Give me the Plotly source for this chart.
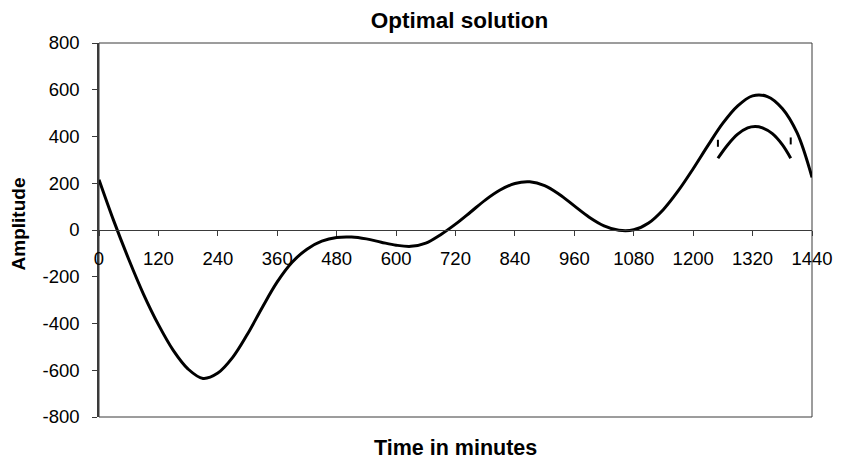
import plotly.graph_objects as go

# Optimal amplitude profile over one day, sampled every 30 minutes
time_main = list(range(0, 1441, 30))
amp_main = [215, 38, -125, -275, -405, -515, -595, -635, -612, -545,
            -445, -330, -222, -138, -82, -48, -32, -30, -38, -52,
            -65, -70, -56, -20, 25, 76, 128, 171, 199, 206,
            190, 152, 103, 55, 18, -1, 1, 30, 88, 168,
            262, 362, 457, 531, 574, 571, 520, 415, 225]

# Inner arc near the evening peak
time_inner = [1250, 1270, 1290, 1310, 1325, 1340, 1360, 1380, 1397]
amp_inner = [307, 365, 410, 437, 443, 437, 412, 365, 307]

# Short marks at the ends of the inner arc
time_mark = [1250, 1397]
amp_mark = [371, 381]

x_ticks = list(range(0, 1441, 120))
y_ticks = list(range(-800, 801, 200))

FONT = "Liberation Sans, Arial, sans-serif"
AXIS_COLOR = "#3a3a3a"

fig = go.Figure()
fig.add_trace(go.Scatter(x=time_main, y=amp_main, mode="lines",
                         line=dict(color="black", width=3, shape="spline", smoothing=1),
                         hoverinfo="skip", showlegend=False))
fig.add_trace(go.Scatter(x=time_inner, y=amp_inner, mode="lines",
                         line=dict(color="black", width=3, shape="spline", smoothing=1),
                         hoverinfo="skip", showlegend=False))
fig.add_trace(go.Scatter(x=time_mark, y=amp_mark, mode="markers",
                         marker=dict(symbol="line-ns", size=5, color="black",
                                     line=dict(color="black", width=2)),
                         hoverinfo="skip", showlegend=False))

# plot-area frame
fig.add_shape(type="rect", xref="paper", yref="paper", x0=0, y0=0, x1=1, y1=1,
              line=dict(color=AXIS_COLOR, width=1), layer="below")

fig.update_layout(
    width=845, height=466,
    margin=dict(l=99, r=25, t=43, b=49),
    paper_bgcolor="white", plot_bgcolor="white",
    font=dict(family=FONT, color="black", size=18),
    title=dict(text="<b>Optimal solution</b>", x=459.5 / 845, xanchor="center",
               y=1 - 20 / 466, yanchor="middle", yref="container",
               font=dict(family=FONT, size=22.5, color="black")),
    xaxis=dict(range=[0, 1440], tickvals=x_ticks, ticktext=[str(v) for v in x_ticks],
               anchor="free", position=0.5, showline=True, linecolor=AXIS_COLOR,
               linewidth=1, ticks="outside", ticklen=5, tickcolor=AXIS_COLOR,
               showgrid=False, zeroline=False, ticklabelstandoff=7,
               tickfont=dict(family=FONT, size=18.5, color="black")),
    yaxis=dict(range=[-800, 800], tickvals=y_ticks, ticktext=[str(v) for v in y_ticks],
               showline=True, linecolor=AXIS_COLOR, linewidth=1.5, ticks="outside",
               ticklen=5, tickcolor=AXIS_COLOR, showgrid=False, zeroline=False,
               ticklabelstandoff=9,
               tickfont=dict(family=FONT, size=18.5, color="black")),
    annotations=[
        dict(text="<b>Time in minutes</b>", xref="paper", yref="paper",
             x=0.5, y=-31 / 374, xanchor="center", yanchor="middle", showarrow=False,
             font=dict(family=FONT, size=21.5, color="black")),
        dict(text="<b>Amplitude</b>", xref="paper", yref="paper",
             x=(17.5 - 99) / 721, y=0.516, xanchor="center", yanchor="middle",
             textangle=-90, showarrow=False,
             font=dict(family=FONT, size=19, color="black")),
    ],
)

fig.write_html("out.html")
